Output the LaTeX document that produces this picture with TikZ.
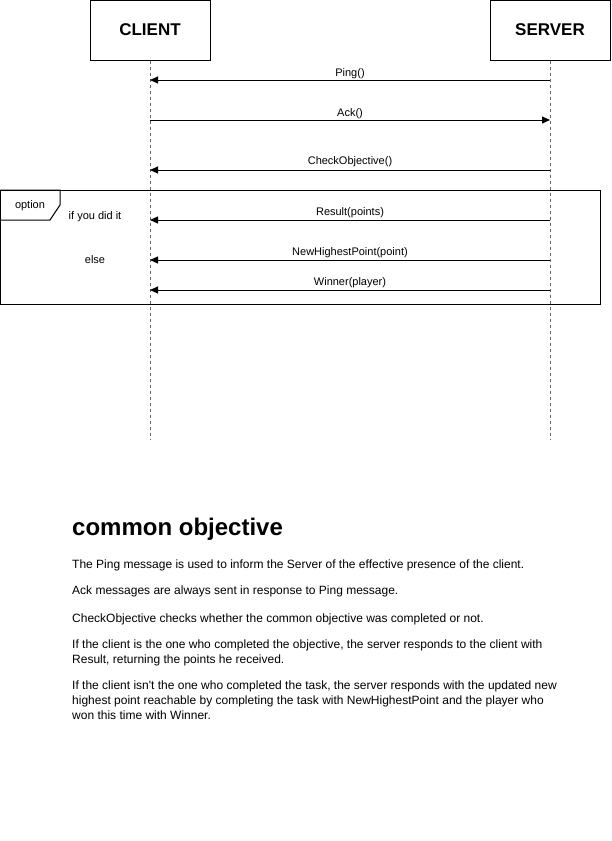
\documentclass[tikz,border=0pt]{standalone}
\usepackage{fontspec}
\setmainfont{Liberation Sans}
\usetikzlibrary{arrows.meta}
\begin{document}
\begin{tikzpicture}[x=1pt,y=-1pt,
  actor/.style={draw,line width=1pt,minimum width=120pt,minimum height=60pt,inner sep=0pt,font=\fontsize{17}{19}\selectfont\bfseries},
  lifeline/.style={draw=black!60,line width=1pt,dash pattern=on 3pt off 3pt},
  msg/.style={draw,line width=1pt,-{Triangle[length=8pt,width=7pt]}},
  lbl/.style={anchor=base,inner sep=0pt,font=\fontsize{11}{13}\selectfont},
  body/.style={anchor=base west,inner sep=0pt,font=\fontsize{12}{15}\selectfont},
  frame/.style={draw,line width=1pt}]
\useasboundingbox (0,0) rectangle (611,841);
% actors
\node[actor] (client) at (150,30) {CLIENT};
\node[actor] (server) at (550,30) {SERVER};
\coordinate (cend) at (150,440);
\coordinate (send) at (550,440);
\draw[lifeline] (client.south) -- (cend);
\draw[lifeline] (server.south) -- (send);
% message points
\coordinate (c1) at (150,80);  \coordinate (s1) at (550,80);
\coordinate (c2) at (150,120); \coordinate (s2) at (550,120);
\coordinate (c3) at (150,170); \coordinate (s3) at (550,170);
\coordinate (c4) at (150,220); \coordinate (s4) at (550,220);
\coordinate (c5) at (150,260); \coordinate (s5) at (550,260);
\coordinate (c6) at (150,290); \coordinate (s6) at (550,290);
% option frame
\draw[frame] (0,190) rectangle (600,304);
\draw[frame] (0,190) -- (60,190) -- (60,205) -- (50,220) -- (0,220);
\node[lbl] (opt) at (30,208) {option};
\node[lbl] (ifdid) at (95,219) {if you did it};
\node[lbl] (else) at (95,263) {else};
% messages
\draw[msg] (s1) -- (c1);
\draw[msg] (c2) -- (s2);
\draw[msg] (s3) -- (c3);
\draw[msg] (s4) -- (c4);
\draw[msg] (s5) -- (c5);
\draw[msg] (s6) -- (c6);
\node[lbl] (l1) at (350,76) {Ping()};
\node[lbl] (l2) at (350,116) {Ack()};
\node[lbl] (l3) at (350,164) {CheckObjective()};
\node[lbl] (l4) at (350,215) {Result(points)};
\node[lbl] (l5) at (350,255) {NewHighestPoint(point)};
\node[lbl] (l6) at (350,285) {Winner(player)};
% text block
\node[anchor=base west,inner sep=0pt,font=\fontsize{24}{27}\selectfont\bfseries] (title) at (72,535) {common objective};
\node[body] (p1) at (72,568) {The Ping message is used to inform the Server of the effective presence of the client.};
\node[body] (p2) at (72,594) {Ack messages are always sent in response to Ping message.};
\node[body] (p3) at (72,622) {CheckObjective checks whether the common objective was completed or not.};
\node[body] (p4a) at (72,648) {If the client is the one who completed the objective, the server responds to the client with};
\node[body] (p4b) at (72,663) {Result, returning the points he received.};
\node[body] (p5a) at (72,689) {If the client isn\textquotesingle t the one who completed the task, the server responds with the updated new};
\node[body] (p5b) at (72,704) {highest point reachable by completing the task with NewHighestPoint and the player who};
\node[body] (p5c) at (72,719) {won this time with Winner.};
\end{tikzpicture}
\end{document}
